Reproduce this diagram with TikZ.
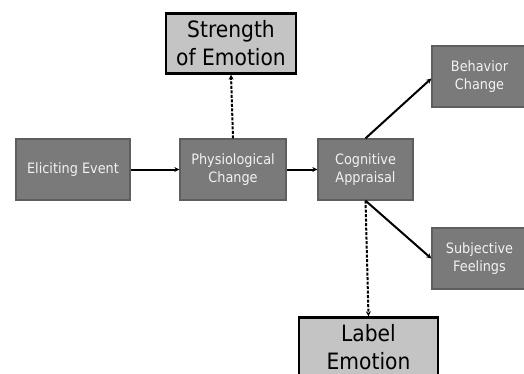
\documentclass[tikz,border=0pt]{standalone}
\usepackage{fontspec}
\setmainfont{DejaVu Sans}[FakeStretch=0.9]
\usetikzlibrary{arrows.meta}
\definecolor{darkbox}{HTML}{7A7A7A}
\definecolor{darkedge}{HTML}{5E5E5E}
\definecolor{lightbox}{HTML}{C4C4C4}
\definecolor{lighttext}{HTML}{F2F2F2}
\tikzset{
  darknode/.style={draw=darkedge, line width=1.3pt, fill=darkbox, text=lighttext,
    minimum height=61pt, inner sep=0pt, align=center, font=\fontsize{14.3}{17.5}\selectfont},
  lightnode/.style={draw=black, line width=2.4pt, fill=lightbox, text=black,
    minimum height=60pt, inner sep=0pt, align=center, font=\fontsize{22.5}{28}\selectfont},
  conn/.style={line width=2pt, -{Stealth[length=5pt,width=5pt]}},
  dconn/.style={line width=2pt, dash pattern=on 3pt off 1.5pt, -{Stealth[length=5pt,width=5pt]}}
}
\begin{document}
\begin{tikzpicture}[x=1pt,y=-1pt]
\useasboundingbox (0,0) rectangle (524,373);
\fill[white] (0,0) rectangle (524,373);
\node[darknode, minimum width=114pt] (ev) at (73,169.5) {Eliciting Event};
\node[darknode, minimum width=106pt] (ph) at (233,169.5) {Physiological\\Change};
\node[darknode, minimum width=95pt] (cg) at (365.5,169.5) {Cognitive\\Appraisal};
\node[darknode, minimum width=95pt] (bh) at (479.5,76.5) {Behavior\\Change};
\node[darknode, minimum width=95pt] (sf) at (479.5,258.5) {Subjective\\Feelings};
\node[lightnode, minimum width=130pt] (st) at (231,43.5) {Strength\\of Emotion};
\node[lightnode, minimum width=139pt] (lb) at (368.5,347.5) {Label\\Emotion};
\draw[conn] (ev.east) -- (ph.west);
\draw[conn] (ph.east) -- (cg.west);
\draw[dconn] (ph.north) -- (st.south);
\draw[conn] (cg.north) -- ([yshift=-2pt]bh.west);
\draw[conn] (cg.south) -- (sf.west);
\draw[dconn] (cg.south) -- (lb.north);
\end{tikzpicture}
\end{document}
